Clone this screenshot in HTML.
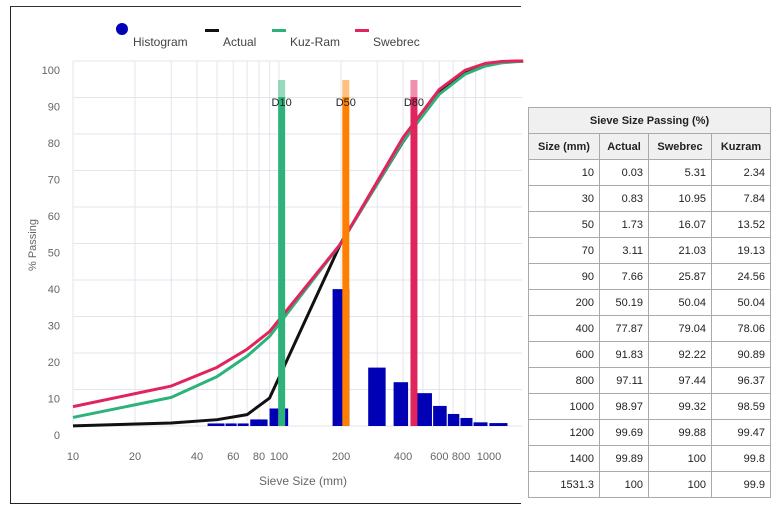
<!DOCTYPE html>
<html><head><meta charset="utf-8"><style>
body{margin:0;width:772px;height:512px;background:#fff;font-family:"Liberation Sans",sans-serif;overflow:hidden;position:relative}
#frame{position:absolute;left:10px;top:6px;width:510px;height:496px;border:1px solid #222;border-right:none;border-top:1px solid #333}
table{position:absolute;left:528px;top:107px;border-collapse:collapse;font-size:11px;color:#222}
td,th{border:1px solid #aaa;height:25px;padding:0 5px;text-align:right}
th{background:#f0f0f0;text-align:center;font-weight:bold;font-size:11px}
</style></head><body>
<div id="frame"></div>
<svg id="chart" width="772" height="512" style="position:absolute;left:0;top:0"></svg>
<table>
<tr><th colspan="4">Sieve Size Passing (%)</th></tr>
<tr><th style="width:60px">Size (mm)</th><th style="width:38px">Actual</th><th style="width:52px">Swebrec</th><th style="width:48px">Kuzram</th></tr>
<tbody id="tb"></tbody>
</table>
<script>
const sizes=[10,30,50,70,90,200,400,600,800,1000,1200,1400,1531.3];
const actual=[0.03,0.83,1.73,3.11,7.66,50.19,77.87,91.83,97.11,98.97,99.69,99.89,100];
const swebrec=[5.31,10.95,16.07,21.03,25.87,50.04,79.04,92.22,97.44,99.32,99.88,100,100];
const kuzram=[2.34,7.84,13.52,19.13,24.56,50.04,78.06,90.89,96.37,98.59,99.47,99.8,99.9];
const binLo=[45,55,63,72.5,90,182,271,360,460,560,660,760,880,1050];
const binHi=[55,63,72,89,112,222,333,428,559,659,759,879,1040,1300];
const binVal=[0.7,0.7,0.7,1.8,4.8,37.5,16,12,9,5.5,3.3,2.2,1,0.8];
const dLabels=["D10","D50","D80"];
const dVals=[103,211,452];
const dColors=["#2db37a","#ff8000","#e0245e"];
const yTicks=[0,10,20,30,40,50,60,70,80,90,100];
const xTicks=[10,20,40,60,80,100,200,400,600,800,1000];
const xMinor=[30,50,70,90,300,500,700,900];

const NS="http://www.w3.org/2000/svg",svg=document.getElementById('chart');
const X=v=>73+206*(Math.log10(v)-1), Y=v=>426-3.65*v;
function el(t,a,txt){const e=document.createElementNS(NS,t);for(const k in a)e.setAttribute(k,a[k]);if(txt!==undefined)e.textContent=txt;svg.appendChild(e);return e;}
yTicks.forEach(v=>{const g=el('line',{x1:73,x2:522,y1:Y(v),y2:Y(v),stroke:'#e4e4ec'});

const t=el('text',{x:60,y:Y(v)+13,'font-size':11,fill:'#666','text-anchor':'end'},v);
});
xMinor.concat(xTicks).forEach(v=>{const g=el('line',{x1:X(v),x2:X(v),y1:Y(100),y2:Y(0),stroke:'#e4e4ec'});
});
xTicks.forEach(v=>{const t=el('text',{x:X(v)+(v==800?-4:v==1000?4:0),y:460,'font-size':11,fill:'#666','text-anchor':'middle'},v);
});
binVal.forEach((v,i)=>{const r=el('rect',{x:X(binLo[i]),y:Y(v),width:X(binHi[i])-X(binLo[i])-1,height:Y(0)-Y(v),fill:'#0000b4'});
});
function line(arr,c,n){const p=el('polyline',{points:sizes.map((s,i)=>X(s)+','+Y(arr[i])).join(' '),fill:'none',stroke:c,'stroke-width':3,'stroke-linejoin':'round'});
}
line(actual,'#111','actual-line');line(kuzram,'#2db37a','kuzram-line');line(swebrec,'#e0245e','swebrec-line');
dVals.forEach((v,i)=>{const a=el('rect',{x:X(v)-3.5,y:80,width:7,height:17,fill:dColors[i],opacity:0.5});

const b=el('rect',{x:X(v)-3.5,y:97,width:7,height:Y(0)-97,fill:dColors[i]});

const t=el('text',{x:X(v),y:106,'font-size':11,fill:'#222','text-anchor':'middle'},dLabels[i]);
});
const yt=el('text',{x:36,y:245,'font-size':11,fill:'#666','text-anchor':'middle',transform:'rotate(-90 36 245)'},'% Passing');

const xt=el('text',{x:303,y:485,'font-size':12,fill:'#666','text-anchor':'middle'},'Sieve Size (mm)');

const lg=[['Histogram',115,'#0000b4',1],['Actual',205,'#111',0],['Kuz-Ram',272,'#2db37a',0],['Swebrec',355,'#e0245e',0]];
lg.forEach(l=>{if(l[3]){const c=el('circle',{cx:l[1]+7,cy:29,r:6,fill:l[2]});}
else{const r=el('rect',{x:l[1],y:29,width:14,height:3,fill:l[2]});}
const t=el('text',{x:l[1]+18,y:46,'font-size':12,fill:'#444'},l[0]);});
const tb=document.getElementById('tb');
sizes.forEach((s,i)=>{const tr=document.createElement('tr');


tr.innerHTML='<td>'+s+'</td><td>'+actual[i]+'</td><td>'+swebrec[i]+'</td><td>'+kuzram[i]+'</td>';tb.appendChild(tr);});
</script>
</body></html>
